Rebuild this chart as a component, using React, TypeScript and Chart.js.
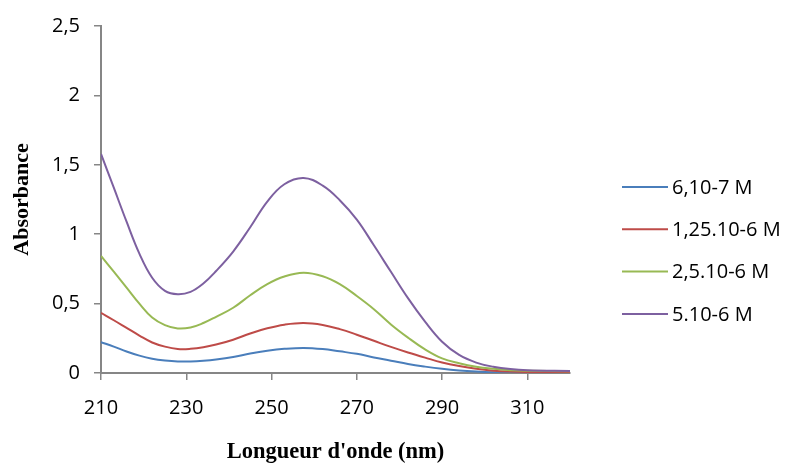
import React, { useEffect, useRef } from "react";
import { Chart, registerables } from "chart.js";

Chart.register(...registerables);

const wavelengths = [210, 213, 216, 219, 222, 225, 228, 231, 234, 237, 241, 245, 249, 253, 257.5, 262, 266, 270, 274, 278, 282, 286, 290, 294, 298, 302, 306, 310, 320];
const seriesLabels = ["6,10-7 M", "1,25.10-6 M", "2,5.10-6 M", "5.10-6 M"];
const absorbance6e7 = [0.222, 0.19, 0.155, 0.125, 0.103, 0.09, 0.083, 0.083, 0.088, 0.097, 0.115, 0.14, 0.16, 0.174, 0.181, 0.173, 0.156, 0.138, 0.112, 0.089, 0.065, 0.046, 0.03, 0.018, 0.01, 0.005, 0.003, 0.002, 0.002];
const absorbance125e6 = [0.433, 0.38, 0.325, 0.27, 0.22, 0.19, 0.173, 0.174, 0.185, 0.205, 0.24, 0.285, 0.322, 0.348, 0.36, 0.346, 0.316, 0.276, 0.232, 0.188, 0.148, 0.111, 0.076, 0.05, 0.03, 0.017, 0.01, 0.007, 0.005];
const absorbance25e6 = [0.843, 0.73, 0.615, 0.5, 0.4, 0.345, 0.321, 0.328, 0.36, 0.405, 0.47, 0.56, 0.64, 0.695, 0.722, 0.697, 0.64, 0.555, 0.46, 0.35, 0.255, 0.17, 0.105, 0.07, 0.045, 0.03, 0.02, 0.016, 0.012];
const absorbance5e6 = [1.578, 1.335, 1.09, 0.86, 0.686, 0.592, 0.568, 0.585, 0.645, 0.735, 0.875, 1.05, 1.235, 1.36, 1.405, 1.35, 1.245, 1.105, 0.92, 0.729, 0.539, 0.37, 0.225, 0.13, 0.075, 0.045, 0.028, 0.02, 0.015];
const xTickValues = [210, 230, 250, 270, 290, 310];
const yTickValues = [0, 0.5, 1, 1.5, 2, 2.5];
const seriesColors = ["#4a7ebb", "#be4b48", "#98b954", "#7d60a0"];

const allSeries = [absorbance6e7, absorbance125e6, absorbance25e6, absorbance5e6];

export default function App() {
  const ref = useRef<HTMLCanvasElement | null>(null);

  useEffect(() => {
    document.body.style.margin = "0";
    const canvas = ref.current;
    if (!canvas) return;

    const sideLegend = {
      id: "sideLegend",
      afterDraw(chart: any) {
        const { ctx, chartArea } = chart;
        ctx.save();
        ctx.font = "20px 'Open Sans'";
        ctx.textBaseline = "middle";
        ctx.textAlign = "left";
        chart.data.datasets.forEach((ds: any, i: number) => {
          const y = chartArea.top + 161 + i * 42.3;
          const x0 = chartArea.right + 52;
          ctx.strokeStyle = ds.borderColor;
          ctx.lineWidth = 2;
          ctx.beginPath();
          ctx.moveTo(x0, y);
          ctx.lineTo(x0 + 46, y);
          ctx.stroke();
          ctx.fillStyle = "#000";
          ctx.fillText(ds.label, x0 + 50, y + 1);
        });
        ctx.restore();
      },
    };

    const chart = new Chart(canvas, {
      type: "line",
      data: {
        datasets: allSeries.map((vals, i) => ({
          label: seriesLabels[i],
          data: wavelengths.map((w, j) => ({ x: w, y: vals[j] })),
          borderColor: seriesColors[i],
          backgroundColor: seriesColors[i],
          borderWidth: 2,
          pointRadius: 0,
          tension: 0.4,
          fill: false,
          order: allSeries.length - i,
        })),
      },
      options: {
        responsive: false,
        animation: false,
        devicePixelRatio: 1,
        layout: { padding: { top: 21, right: 216, bottom: 0, left: 0 } },
        plugins: {
          legend: { display: false },
          tooltip: { enabled: false },
        },
        scales: {
          x: {
            type: "linear",
            min: 210,
            max: 320,
            afterBuildTicks: (scale: any) => {
              scale.ticks = xTickValues.map((v) => ({ value: v }));
            },
            afterFit: (scale: any) => {
              scale.height = 91;
            },
            border: { display: true, color: "#868686", width: 2 },
            grid: {
              display: true,
              drawOnChartArea: false,
              drawTicks: true,
              tickLength: 7,
              color: "#868686",
              lineWidth: 1.5,
            },
            ticks: {
              color: "#000",
              font: { family: "'Open Sans'", size: 20 },
              padding: 16,
              maxRotation: 0,
              autoSkip: false,
            },
            title: {
              display: true,
              text: "Longueur d'onde (nm)",
              color: "#000",
              font: { family: "'Liberation Serif'", size: 22.5, weight: "bold", lineHeight: 1.05 },
              padding: { top: 0, bottom: 0 },
            },
          },
          y: {
            type: "linear",
            min: 0,
            max: 2.5,
            afterBuildTicks: (scale: any) => {
              scale.ticks = yTickValues.map((v) => ({ value: v }));
            },
            afterFit: (scale: any) => {
              scale.width = 101;
            },
            border: { display: true, color: "#868686", width: 2 },
            grid: {
              display: true,
              drawOnChartArea: false,
              drawTicks: true,
              tickLength: 7,
              color: "#868686",
              lineWidth: 1.5,
            },
            ticks: {
              color: "#000",
              font: { family: "'Open Sans'", size: 20 },
              padding: 14,
              callback: (v: any) => String(v).replace(".", ","),
            },
            title: {
              display: true,
              text: "Absorbance",
              color: "#000",
              font: { family: "'Liberation Serif'", size: 22, weight: "bold", lineHeight: 1 },
              padding: { top: 11, bottom: 0 },
            },
          },
        },
      },
      plugins: [sideLegend],
    });

    return () => chart.destroy();
  }, []);

  return (
    <div style={{ width: 786, height: 464 }}>
      <canvas ref={ref} width={786} height={464} style={{ display: "block" }} />
    </div>
  );
}
